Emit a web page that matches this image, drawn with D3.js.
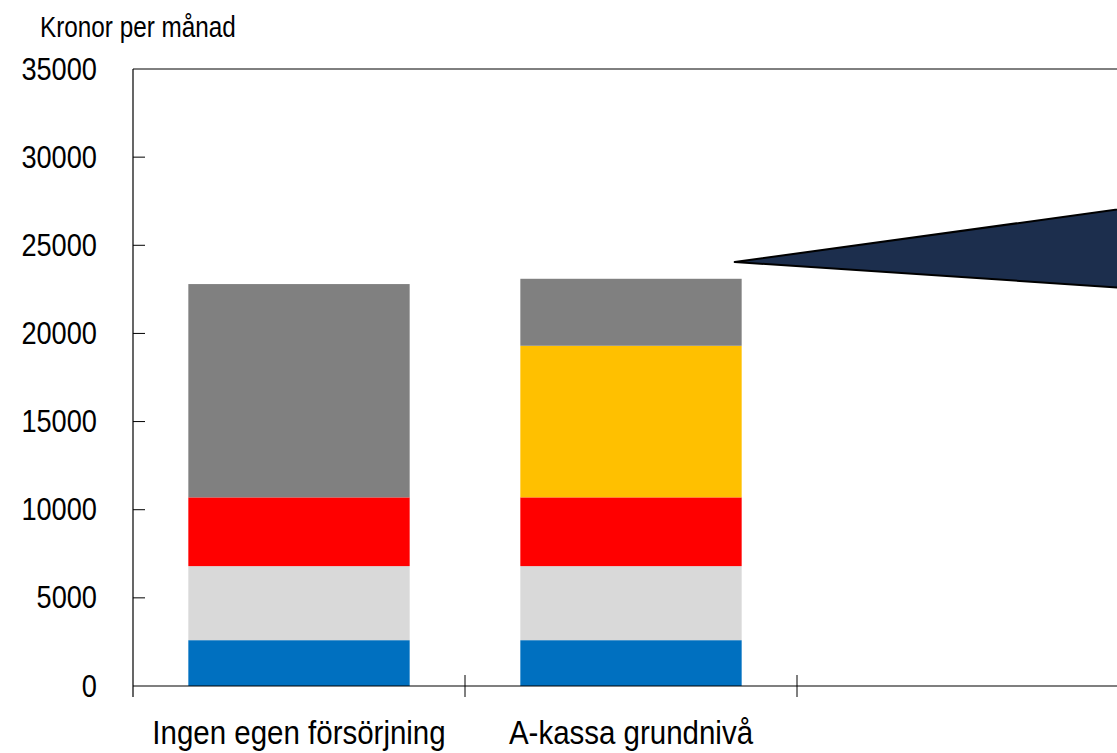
<!DOCTYPE html>
<html>
<head>
<meta charset="utf-8">
<script src="https://cdn.jsdelivr.net/npm/d3@7"></script>
<style>
  body { margin: 0; background: #fff; }
  svg { display: block; font-family: "Liberation Sans", Arial, sans-serif; }
</style>
</head>
<body>
<svg id="chart" width="1117" height="753"></svg>
<script>
// categories (third column is empty in the picture)
const categories = ["Ingen egen försörjning", "A-kassa grundnivå", ""];

// stacked series, bottom to top
const seriesNames = ["blue", "lightgray", "red", "yellow", "gray"];
const blueValues = [2600, 2600, 0];
const lightgrayValues = [4200, 4200, 0];
const redValues = [3900, 3900, 0];
const yellowValues = [0, 8600, 0];
const grayValues = [12100, 3800, 0];

const yTicks = [0, 5000, 10000, 15000, 20000, 25000, 30000, 35000];
const yLabel = "Kronor per månad";

const colors = {
  blue: "#0070c0",
  lightgray: "#d9d9d9",
  red: "#ff0000",
  yellow: "#ffc000",
  gray: "#808080"
};

const svg = d3.select("#chart");
const W = 1117, H = 753;
const m = { left: 133, top: 69, bottom: 686 };
// the original uses a condensed face, squeeze Liberation Sans horizontally
const squeeze = 0.85;

// build table for d3.stack
const table = categories.map((c, i) => ({
  cat: c,
  blue: blueValues[i],
  lightgray: lightgrayValues[i],
  red: redValues[i],
  yellow: yellowValues[i],
  gray: grayValues[i]
}));

const stack = d3.stack().keys(seriesNames);
const layers = stack(table);

// d3 scales
const x = d3.scaleBand()
  .domain(categories)
  .range([m.left, m.left + 332 * 3])
  .paddingInner(1 / 3)
  .paddingOuter(1 / 6);

const y = d3.scaleLinear()
  .domain([0, 35000])
  .range([m.bottom, m.top]);

// plot frame top line
svg.append("line")
  .attr("x1", m.left).attr("x2", W + 10)
  .attr("y1", y(35000)).attr("y2", y(35000))
  .attr("stroke", "#000").attr("stroke-width", 1);

// bars
svg.append("g")
  .selectAll("g")
  .data(layers)
  .join("g")
  .attr("fill", d => colors[d.key])
  .selectAll("rect")
  .data(d => d.filter(s => s[1] > s[0]))
  .join("rect")
  .attr("x", d => x(d.data.cat))
  .attr("width", x.bandwidth())
  .attr("y", d => y(d[1]))
  .attr("height", d => y(d[0]) - y(d[1]));

// y axis: inward ticks, labels on the left
const yAxis = svg.append("g");
yAxis.append("line")
  .attr("x1", m.left).attr("x2", m.left)
  .attr("y1", y(35000)).attr("y2", y(0) + 11)
  .attr("stroke", "#000").attr("stroke-width", 1.2);
yAxis.selectAll("line.tick")
  .data(yTicks.filter(t => t > 0 && t < 35000))
  .join("line")
  .attr("class", "tick")
  .attr("x1", m.left).attr("x2", m.left + 12)
  .attr("y1", d => y(d)).attr("y2", d => y(d))
  .attr("stroke", "#000").attr("stroke-width", 1);
yAxis.selectAll("text")
  .data(yTicks)
  .join("text")
  .attr("transform", d => `translate(97,${y(d)}) scale(${squeeze},1)`)
  .attr("dy", "0.33em")
  .attr("text-anchor", "end")
  .style("font-size", "32px")
  .attr("fill", "#000")
  .text(d => d);

svg.append("text")
  .attr("transform", `translate(40,36.5) scale(0.81,1)`)
  .style("font-size", "30px")
  .attr("fill", "#000")
  .text(yLabel);

// x axis: baseline + ticks at band boundaries
const step = x.step();
const bounds = categories.map(c => x(c) - (step - x.bandwidth()) / 2);
bounds.push(bounds[bounds.length - 1] + step);

const xAxis = svg.append("g");
xAxis.append("line")
  .attr("x1", m.left).attr("x2", W + 10)
  .attr("y1", y(0)).attr("y2", y(0))
  .attr("stroke", "#000").attr("stroke-width", 1.2);
xAxis.selectAll("line.tick")
  .data(bounds.slice(1))
  .join("line")
  .attr("class", "tick")
  .attr("x1", d => d).attr("x2", d => d)
  .attr("y1", y(0) - 11).attr("y2", y(0) + 11)
  .attr("stroke", "#000").attr("stroke-width", 1);
xAxis.selectAll("text")
  .data(categories)
  .join("text")
  .attr("transform", d => `translate(${x(d) + x.bandwidth() / 2},744) scale(0.88,1)`)
  .attr("text-anchor", "middle")
  .style("font-size", "33.5px")
  .attr("fill", "#000")
  .text(d => d);

// callout wedge pointing at the second bar
const tipX = x(categories[1]) + x.bandwidth() - 7;
const tipY = y(24050);
svg.append("path")
  .attr("d", `M${tipX},${tipY} L${W + 40},${tipY - 58} L${W + 40},${tipY + 28} Z`)
  .attr("fill", "#1c2e4d")
  .attr("stroke", "#000")
  .attr("stroke-width", 2)
  .attr("stroke-linejoin", "round");
</script>
</body>
</html>
